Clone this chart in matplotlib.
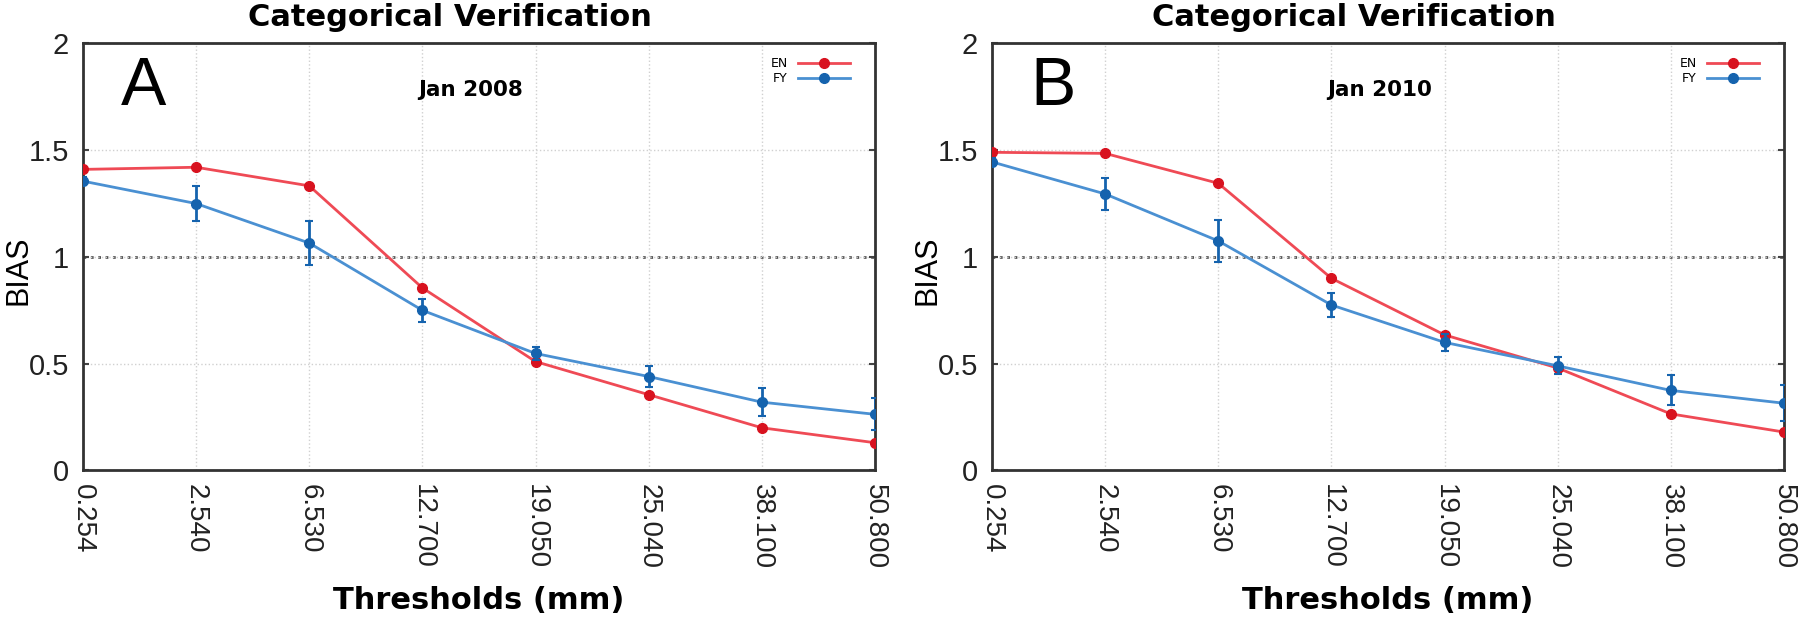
import numpy as np
import matplotlib
matplotlib.use("Agg")
import matplotlib.pyplot as plt
from matplotlib.lines import Line2D

thresholds = ["0.254", "2.540", "6.530", "12.700", "19.050", "25.040", "38.100", "50.800"]

en_2008 = [1.41, 1.42, 1.333, 0.855, 0.51, 0.355, 0.20, 0.13]
fy_2008 = [1.355, 1.25, 1.065, 0.75, 0.548, 0.44, 0.32, 0.263]
fy_err_2008 = [0.02, 0.08, 0.105, 0.055, 0.03, 0.05, 0.065, 0.075]

en_2010 = [1.49, 1.485, 1.345, 0.90, 0.635, 0.48, 0.265, 0.18]
fy_2010 = [1.445, 1.295, 1.075, 0.775, 0.60, 0.49, 0.375, 0.315]
fy_err_2010 = [0.02, 0.075, 0.10, 0.055, 0.04, 0.04, 0.07, 0.085]

panels = [("A", "Jan 2008", en_2008, fy_2008, fy_err_2008),
          ("B", "Jan 2010", en_2010, fy_2010, fy_err_2010)]

red_line, red_mk = "#ef4a55", "#d8121f"
blue_line, blue_mk = "#4a90d2", "#1563ae"
tick_font = "Liberation Sans"

fig = plt.figure(figsize=(18, 6.29), dpi=100)
boxes = [[0.0461, 0.252, 0.44, 0.679], [0.5511, 0.252, 0.44, 0.679]]
title_x = [0.25, 0.752]  # titles centred over each half of the figure

for box, tx, (letter, month, en, fy, fy_err) in zip(boxes, title_x, panels):
    ax = fig.add_axes(box)
    x = np.arange(len(thresholds))

    ax.grid(True, color="#d0d0d0", linestyle=":", linewidth=1.0)
    ax.axhline(1.0, color="#555555", linestyle=":", linewidth=2.0, zorder=1)

    ax.plot(x, en, color=red_line, linewidth=2, marker="o", markersize=7,
            markerfacecolor=red_mk, markeredgecolor=red_mk, zorder=3)
    ax.errorbar(x, fy, yerr=fy_err, color=blue_line, linewidth=2, marker="o",
                markersize=7, markerfacecolor=blue_mk, markeredgecolor=blue_mk,
                ecolor=blue_mk, elinewidth=2, capsize=3, capthick=1.5, zorder=4)

    ax.set_xlim(0, len(thresholds) - 1)
    ax.set_ylim(0, 2)
    ax.set_xticks(x)
    ax.set_xticklabels(thresholds, rotation=-90, fontsize=20, family=tick_font,
                       color="#222222")
    ax.set_yticks([0, 0.5, 1, 1.5, 2])
    ax.set_yticklabels(["0", "0.5", "1", "1.5", "2"], fontsize=21,
                       family=tick_font, color="#222222")
    ax.tick_params(axis="x", length=0, pad=10)
    ax.tick_params(axis="y", direction="in", length=4, width=1.5,
                   color="#444444", right=True, pad=10)
    for s in ax.spines.values():
        s.set_color("#333333")
        s.set_linewidth(2)

    fig.text(tx, 0.972, "Categorical Verification", fontsize=22,
             fontweight="bold", ha="center", va="center")
    ax.set_xlabel("Thresholds (mm)", fontsize=22, fontweight="bold", labelpad=12)
    ax.set_ylabel("BIAS", fontsize=22, family=tick_font)
    ax.yaxis.set_label_coords(-0.063, 0.468)

    ax.text(0.077, 0.897, letter, transform=ax.transAxes, fontsize=49,
            family=tick_font, ha="center", va="center")
    ax.text(0.49, 0.89, month, transform=ax.transAxes, fontsize=15.5,
            fontweight="bold", ha="center", va="center")

    handles = [
        Line2D([], [], color=red_line, linewidth=2, marker="o", markersize=7,
               markerfacecolor=red_mk, markeredgecolor=red_mk),
        Line2D([], [], color=blue_line, linewidth=2, marker="o", markersize=7,
               markerfacecolor=blue_mk, markeredgecolor=blue_mk),
    ]
    ax.legend(handles, ["EN", "FY"], loc="upper right", fontsize=9,
              frameon=False, markerfirst=False, handlelength=4.2,
              bbox_to_anchor=(0.975, 0.98), borderaxespad=0,
              labelspacing=0.2, handletextpad=0.8)

fig.savefig("out.png", dpi=100)
